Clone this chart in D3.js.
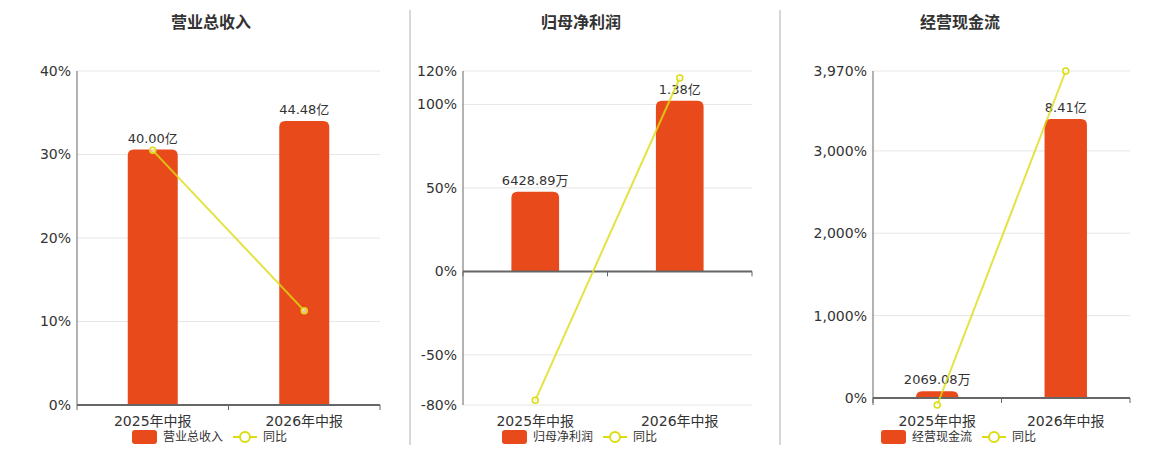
<!DOCTYPE html>
<html>
<head>
<meta charset="utf-8">
<script src="https://cdn.jsdelivr.net/npm/d3@7"></script>
<style>
  body { margin: 0; background: #fff; }
  svg { display: block; font-family: "DejaVu Sans", "Noto Sans CJK SC", sans-serif; }
  .tick-label { font-size: 14px; fill: #333; }
  .cat-label { font-size: 14px; fill: #333; }
  .bar-label { font-size: 13px; fill: #333; }
  .title { font-size: 16px; font-weight: bold; fill: #333; font-family: "Noto Sans CJK SC", sans-serif; }
  .legend-text { font-size: 12px; fill: #333; font-family: "Noto Sans CJK SC", sans-serif; }
</style>
</head>
<body>
<svg width="1160" height="450"></svg>
<script>
// data
const titles = ["营业总收入", "归母净利润", "经营现金流"]
const categories = ["2025年中报", "2026年中报"]
// bar values in 亿
const barValues = [[40.00, 44.48], [0.642889, 1.38], [0.206908, 8.41]]
const barLabels = [["40.00亿", "44.48亿"], ["6428.89万", "1.38亿"], ["2069.08万", "8.41亿"]]
// 同比 in %
const yoyValues = [[30.5, 11.3], [-77.2, 115.8], [-85, 3970]]
const yoyDomains = [[0, 40], [-80, 120], [-85, 3970]]
const yoyTicks = [[0, 10, 20, 30, 40], [-80, -50, 0, 50, 100, 120], [0, 1000, 2000, 3000, 3970]]
// hidden bar axis top (亿), zero shared with the % axis
const barAxisMax = [52.3, 1.62, 9.86]

const barColor = "#e84a1c"
const lineColor = "#dcdc14"

// layout
const panels = [
    { x0: 77, x1: 380, cx: 211 },
    { x0: 463, x1: 752, cx: 581 },
    { x0: 873, x1: 1130, cx: 960 }
]
const plotTop = 71, plotBottom = 405
const separators = [410, 780]

const svg = d3.select("svg")

svg.selectAll("line.sep")
    .data(separators)
    .enter()
    .append("line")
    .attr("class", "sep")
    .attr("x1", d => d).attr("x2", d => d)
    .attr("y1", 10).attr("y2", 445)
    .attr("stroke", "#b0b0b0")

// plain hyphen for negatives, like the original
const pctFormat = d3.formatLocale({ decimal: ".", thousands: ",", grouping: [3], currency: ["", ""], minus: "-" }).format(",")

panels.forEach((p, i) => {
    const g = svg.append("g")

    const x = d3.scaleBand().domain(categories).range([p.x0, p.x1])
    const y = d3.scaleLinear().domain(yoyDomains[i]).range([plotBottom, plotTop])
    const barMin = barAxisMax[i] * yoyDomains[i][0] / yoyDomains[i][1]
    const yBar = d3.scaleLinear().domain([barMin, barAxisMax[i]]).range([plotBottom, plotTop])
    const zeroY = y(0)

    // title
    g.append("text")
        .attr("class", "title")
        .attr("x", p.cx).attr("y", 28)
        .attr("text-anchor", "middle")
        .text(titles[i])

    // grid + tick labels
    g.selectAll("line.grid")
        .data(yoyTicks[i])
        .enter()
        .append("line")
        .attr("x1", p.x0).attr("x2", p.x1)
        .attr("y1", d => y(d)).attr("y2", d => y(d))
        .attr("stroke", "#e6e6e6")

    g.selectAll("text.tick-label")
        .data(yoyTicks[i])
        .enter()
        .append("text")
        .attr("class", "tick-label")
        .attr("x", p.x0 - 6)
        .attr("y", d => y(d))
        .attr("dy", "0.35em")
        .attr("text-anchor", "end")
        .text(d => pctFormat(d) + "%")

    // y axis line
    g.append("line")
        .attr("x1", p.x0).attr("x2", p.x0)
        .attr("y1", plotTop).attr("y2", plotBottom)
        .attr("stroke", "#666")

    // bars with rounded tops
    const bw = x.bandwidth() * 0.33
    g.selectAll("path.bar")
        .data(barValues[i])
        .enter()
        .append("path")
        .attr("fill", barColor)
        .attr("d", (d, j) => {
            const cx = x(categories[j]) + x.bandwidth() / 2
            const l = cx - bw / 2, r = cx + bw / 2
            const t = yBar(d), b = yBar(0)
            const rad = Math.min(6, (b - t), bw / 2)
            return `M${l},${b}V${t + rad}Q${l},${t} ${l + rad},${t}H${r - rad}Q${r},${t} ${r},${t + rad}V${b}Z`
        })

    g.selectAll("text.bar-label")
        .data(barLabels[i])
        .enter()
        .append("text")
        .attr("class", "bar-label")
        .attr("x", (d, j) => x(categories[j]) + x.bandwidth() / 2)
        .attr("y", (d, j) => yBar(barValues[i][j]) - 7)
        .attr("text-anchor", "middle")
        .text(d => d)

    // x axis at zero
    g.append("line")
        .attr("x1", p.x0).attr("x2", p.x1)
        .attr("y1", zeroY).attr("y2", zeroY)
        .attr("stroke", "#666")
        .attr("stroke-width", 2)

    const bounds = [p.x0, p.x0 + x.bandwidth(), p.x1]
    g.selectAll("line.xtick")
        .data(bounds)
        .enter()
        .append("line")
        .attr("x1", d => d).attr("x2", d => d)
        .attr("y1", zeroY).attr("y2", zeroY + 5)
        .attr("stroke", "#666")

    g.selectAll("text.cat-label")
        .data(categories)
        .enter()
        .append("text")
        .attr("class", "cat-label")
        .attr("x", d => x(d) + x.bandwidth() / 2)
        .attr("y", 426)
        .attr("text-anchor", "middle")
        .text(d => d)

    // 同比 line
    const line = d3.line()
        .x((d, j) => x(categories[j]) + x.bandwidth() / 2)
        .y(d => y(d))

    g.append("path")
        .datum(yoyValues[i])
        .attr("d", line)
        .attr("fill", "none")
        .attr("stroke", lineColor)
        .attr("stroke-width", 2)
        .attr("stroke-opacity", 0.8)

    g.selectAll("circle.pt")
        .data(yoyValues[i])
        .enter()
        .append("circle")
        .attr("cx", (d, j) => x(categories[j]) + x.bandwidth() / 2)
        .attr("cy", d => y(d))
        .attr("r", 3)
        .attr("fill", "#fff")
        .attr("fill-opacity", 0.6)
        .attr("stroke", lineColor)
        .attr("stroke-width", 1.5)

    // legend
    const lx = p.cx - 79
    const lg = g.append("g").attr("transform", `translate(${lx},437)`)
    lg.append("rect")
        .attr("x", 0).attr("y", -7)
        .attr("width", 25).attr("height", 14)
        .attr("rx", 3)
        .attr("fill", barColor)
    lg.append("text")
        .attr("class", "legend-text")
        .attr("x", 31).attr("dy", "0.35em")
        .text(titles[i])
    lg.append("line")
        .attr("x1", 101).attr("x2", 125)
        .attr("stroke", lineColor)
        .attr("stroke-width", 2)
    lg.append("circle")
        .attr("cx", 113).attr("r", 5)
        .attr("fill", "#fff")
        .attr("stroke", lineColor)
        .attr("stroke-width", 2)
    lg.append("text")
        .attr("class", "legend-text")
        .attr("x", 131).attr("dy", "0.35em")
        .text("同比")
})
</script>
</body>
</html>
